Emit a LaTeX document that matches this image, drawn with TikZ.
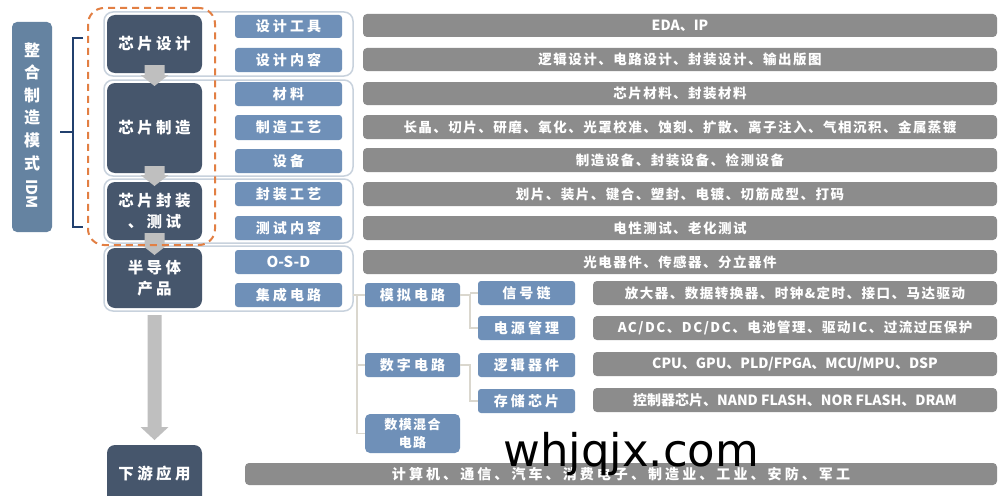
\documentclass[tikz,border=0pt]{standalone}
\usepackage{fontspec}
\newfontfamily\cjk{Noto Sans CJK SC}
\newfontfamily\cjksp{Noto Sans CJK SC}[LetterSpace=11]
\newfontfamily\cjkwide{Noto Sans CJK SC}[LetterSpace=22]
\newfontfamily\wmfont{DejaVu Sans}
\definecolor{darkblue}{HTML}{46566C}
\definecolor{lightblue}{HTML}{6F90B8}
\definecolor{idmblue}{HTML}{6583A1}
\definecolor{bargray}{HTML}{8C8C8C}
\definecolor{arrowgray}{HTML}{BFBFBF}
\definecolor{framecol}{HTML}{C8D2DD}
\definecolor{treecol}{HTML}{DAD7CE}
\definecolor{orangecol}{HTML}{E27F43}
\definecolor{bracketcol}{HTML}{21406E}
\newcommand{\mkbox}[7]{\node[#1, minimum width={#5-#3}, minimum height={#6-#4}] (#2) at ({(#3+#5)/2},{(#4+#6)/2}) {#7};}
\newcommand{\blockarrow}[6]{\fill[arrowgray] ({#1-#4},#2) -- ({#1+#4},#2) -- ({#1+#4},{#3-#6}) -- ({#1+#5},{#3-#6}) -- (#1,#3) -- ({#1-#5},{#3-#6}) -- ({#1-#4},{#3-#6}) -- cycle;}
\tikzset{
  base/.style={inner sep=0pt, outer sep=0pt, align=center, text=white},
  darkbox/.style={base, fill=darkblue, rounded corners=8pt, font=\cjkwide\bfseries\fontsize{15.5}{21}\selectfont},
  bluebox/.style={base, fill=lightblue, rounded corners=3pt, font=\cjkwide\bfseries\fontsize{14}{18}\selectfont},
  latinblue/.style={bluebox, font=\cjk\bfseries\fontsize{15}{18}\selectfont},
  smallblue/.style={bluebox, rounded corners=5pt, font=\cjksp\bfseries\fontsize{13}{18}\selectfont},
  graybar/.style={base, fill=bargray, rounded corners=4pt, font=\cjksp\bfseries\fontsize{13.5}{16}\selectfont},
  latinbar/.style={graybar, font=\cjk\bfseries\fontsize{14}{16}\selectfont},
  widebar/.style={graybar, font=\cjkwide\bfseries\fontsize{14}{16}\selectfont},
  idmbox/.style={base, fill=idmblue, rounded corners=5pt},
  idmtext/.style={base, font=\cjk\bfseries\fontsize{16}{22.6}\selectfont},
  groupframe/.style={base, draw=framecol, line width=1.5pt, rounded corners=9pt},
  orangebox/.style={base, draw=orangecol, line width=2pt, dash pattern=on 7pt off 5pt, rounded corners=16pt},
  treeline/.style={draw=treecol, line width=1.5pt},
  bracketline/.style={draw=bracketcol, line width=2pt},
}
\begin{document}
\begin{tikzpicture}[x=1pt,y=-1pt]
\fill[white] (0,0) rectangle (1000,495);
\useasboundingbox (0,0) rectangle (1000,495);

% left IDM box
\mkbox{idmbox}{idm}{12}{22}{52}{232}{}
\node[idmtext] (idmt) at (32,106.5) {整\\合\\制\\造\\模\\式};
\node[idmtext, font=\cjk\bfseries\fontsize{15}{18}\selectfont, rotate=-90] (idml) at (32,194) {IDM};

% bracket
\draw[bracketline] (83,38) -- (73,38) -- (73,227) -- (83,227);
\draw[bracketline] (73,132) -- (60,132);

% group frames
\mkbox{groupframe}{f1}{104}{12}{353}{76}{}
\mkbox{groupframe}{f2}{104}{80}{353}{176}{}
\mkbox{groupframe}{f3}{104}{179}{353}{243}{}
\mkbox{groupframe}{f4}{104}{246}{353}{311}{}

% dark boxes
\mkbox{darkbox}{d1}{107}{15}{202}{73}{芯片设计}
\mkbox{darkbox}{d2}{107}{83}{202}{173}{芯片制造}
\mkbox{darkbox}{d3}{107}{182}{202}{240}{芯片封装\\、测试}
\mkbox{darkbox}{d4}{107}{248}{202}{308}{半导体\\产品}
\mkbox{darkbox}{d5}{107}{445}{202}{505}{\raisebox{5pt}{下游应用}}

% blue boxes
\mkbox{bluebox}{b1}{235}{15}{342}{38}{设计工具}
\mkbox{bluebox}{b2}{235}{48}{342}{72}{设计内容}
\mkbox{bluebox}{b3}{235}{82}{342}{106}{材料}
\mkbox{bluebox}{b4}{235}{115}{342}{140}{制造工艺}
\mkbox{bluebox}{b5}{235}{149}{342}{173}{设备}
\mkbox{bluebox}{b6}{235}{182}{342}{206}{封装工艺}
\mkbox{bluebox}{b7}{235}{216}{342}{240}{测试内容}
\mkbox{latinblue}{b8}{235}{250}{342}{274}{O-S-D}
\mkbox{bluebox}{b9}{235}{283}{342}{307}{集成电路}

% gray bars
\mkbox{latinbar}{g1}{363}{14}{997}{37}{EDA、IP}
\mkbox{graybar}{g2}{363}{48}{997}{71}{逻辑设计、电路设计、封装设计、输出版图}
\mkbox{graybar}{g3}{363}{82}{997}{105}{芯片材料、封装材料}
\mkbox{graybar}{g4}{363}{115}{997}{139}{长晶、切片、研磨、氧化、光罩校准、蚀刻、扩散、离子注入、气相沉积、金属蒸镀}
\mkbox{graybar}{g5}{363}{148}{997}{172}{制造设备、封装设备、检测设备}
\mkbox{graybar}{g6}{363}{182}{997}{206}{划片、装片、键合、塑封、电镀、切筋成型、打码}
\mkbox{graybar}{g7}{363}{216}{997}{240}{电性测试、老化测试}
\mkbox{graybar}{g8}{363}{250}{997}{274}{光电器件、传感器、分立器件}

% integrated-circuit tree
\mkbox{bluebox}{t1}{365}{283}{460}{307}{模拟电路}
\mkbox{bluebox}{t2}{365}{353}{460}{377}{数字电路}
\mkbox{smallblue}{t3}{365}{414}{460}{453}{数模混合\\电路}
\mkbox{bluebox}{s1}{478}{281}{575}{305}{信号链}
\mkbox{bluebox}{s2}{478}{316}{575}{340}{电源管理}
\mkbox{bluebox}{s3}{478}{353}{575}{377}{逻辑器件}
\mkbox{bluebox}{s4}{478}{389}{575}{413}{存储芯片}
\mkbox{graybar}{h1}{593}{281}{997}{305}{放大器、数据转换器、时钟\&定时、接口、马达驱动}
\mkbox{graybar}{h2}{593}{316}{997}{340}{AC/DC、DC/DC、电池管理、驱动IC、过流过压保护}
\mkbox{latinbar}{h3}{593}{352}{997}{376}{CPU、GPU、PLD/FPGA、MCU/MPU、DSP}
\mkbox{latinbar}{h4}{593}{388}{997}{412}{控制器芯片、NAND FLASH、NOR FLASH、DRAM}

\coordinate (j1) at (357,0);
\coordinate (j2) at (470,0);
\draw[treeline] (f4.east |- b9.east) -- (j1 |- b9.east) |- (t3.west);
\draw[treeline] (j1 |- t1.west) -- (t1.west);
\draw[treeline] (j1 |- t2.west) -- (t2.west);
\draw[treeline] (t1.east) -- (j2 |- t1.east) |- (s2.west);
\draw[treeline] (j2 |- s1.west) -- (s1.west);
\draw[treeline] (t2.east) -- (j2 |- t2.east) |- (s4.west);

% bottom bar
\mkbox{widebar}{g9}{245}{463}{997}{485}{计算机、通信、汽车、消费电子、制造业、工业、安防、军工}

% block arrows
\blockarrow{154.5}{65}{86}{10}{14}{11}
\blockarrow{154.5}{166}{186}{10}{14}{11}
\blockarrow{154.5}{233}{255}{10}{14}{11}
\blockarrow{154.5}{315}{440}{7}{14}{13}

% orange dashed group
\mkbox{orangebox}{grp}{88}{8}{215}{245}{}

% watermark
\node[inner sep=0pt, anchor=base west, font=\wmfont\fontsize{45}{45}\selectfont, text=black] (wm) at (503,466) {whjqjx.com};
\end{tikzpicture}
\end{document}
